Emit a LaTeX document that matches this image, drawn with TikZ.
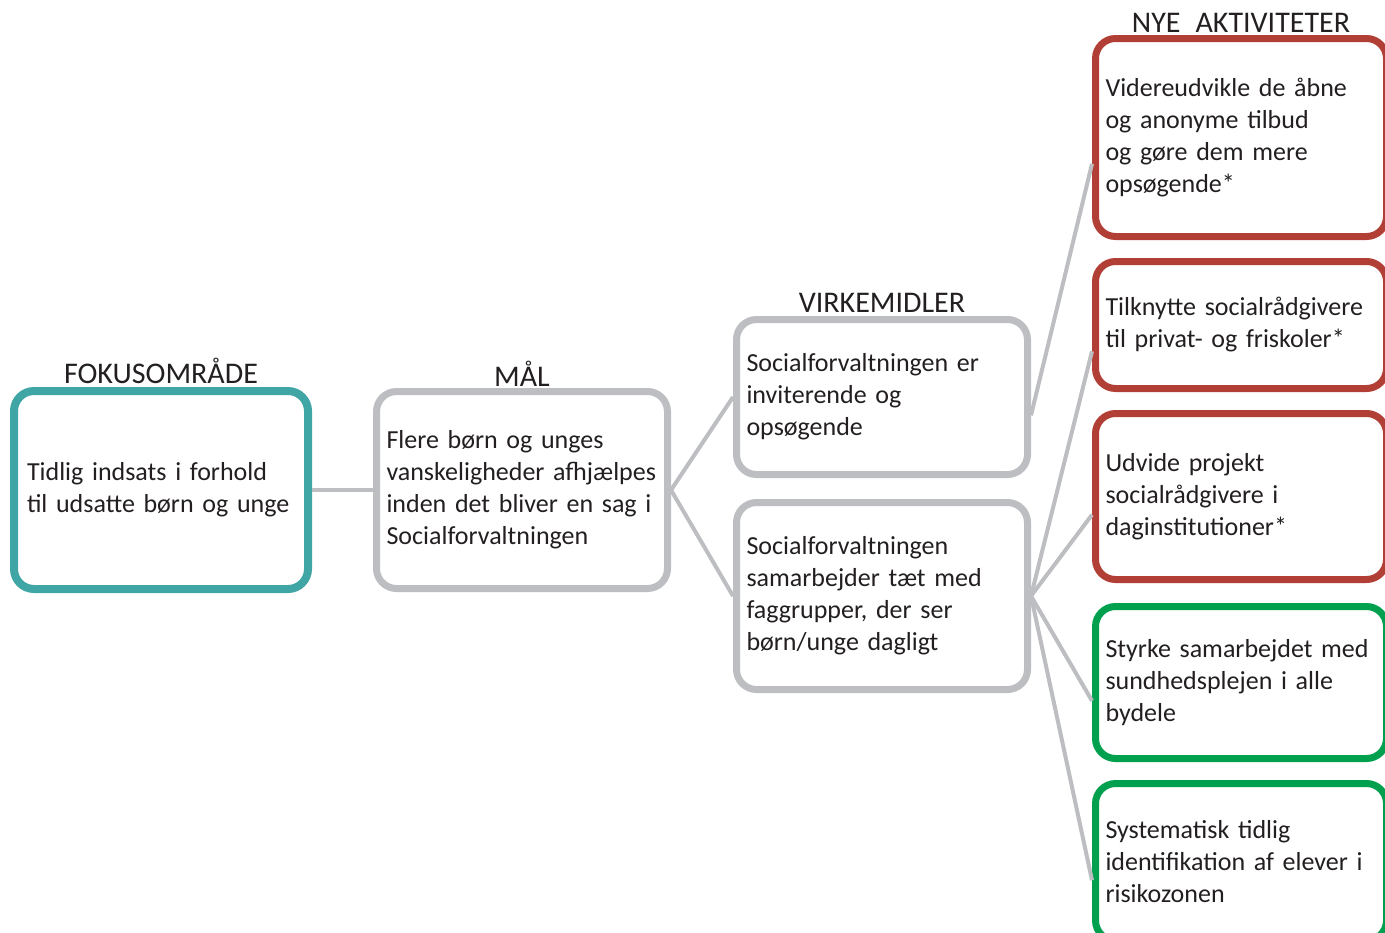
\documentclass[tikz,border=0pt]{standalone}
\usepackage{fontspec}
\setmainfont{Carlito}
\usetikzlibrary{positioning}
\definecolor{focusteal}{HTML}{40A6A5}
\definecolor{boxgray}{HTML}{BDBEC2}
\definecolor{actred}{HTML}{B23F35}
\definecolor{actgreen}{HTML}{00A04F}
\definecolor{ink}{HTML}{231F20}

\begin{document}
\begin{tikzpicture}[x=0.5pt, y=-0.5pt,
                every node/.style = {font=\fontsize{13}{16}\selectfont, text=ink},
                box/.style = {draw, fill=white, rounded corners=10pt, line width=3.5pt, align=left,
                              inner xsep=5pt, inner ysep=0pt, text width=135.5pt},
                head/.style = {inner sep=0pt, font=\fontsize{15}{16}\selectfont},
                link/.style = {every edge/.append style={draw=boxgray, line width=2pt}}]
                \useasboundingbox (0,0) rectangle (1385,932);
                \clip (0,0) rectangle (1385,932);
                % kolonner
                \node[box, draw=focusteal, line width=4pt, inner xsep=6.5pt, text width=134pt, minimum height=99pt] (1) at (161,490)
                    {Tidlig indsats i forhold\\til udsatte børn og unge};
                \node[box, draw=boxgray, minimum height=98.5pt] (2) at (522,490)
                    {Flere børn og unges\\vanskeligheder afhjælpes\\inden det bliver en sag i\\Socialforvaltningen};
                \node[box, draw=boxgray, minimum height=77.5pt] (3) at (882,397)
                    {Socialforvaltningen er\\inviterende og\\opsøgende};
                \node[box, draw=boxgray, minimum height=93.5pt] (4) at (882,596)
                    {Socialforvaltningen\\samarbejder tæt med\\faggrupper, der ser\\børn/unge dagligt};
                \node[box, draw=actred, minimum height=99pt] (5) at (1241,137.5)
                    {Videreudvikle de åbne\\og anonyme tilbud\\og gøre dem mere\\opsøgende*};
                \node[box, draw=actred, minimum height=63.5pt] (6) at (1241,325)
                    {Tilknytte socialrådgivere\\til privat- og friskoler*};
                \node[box, draw=actred, minimum height=83pt] (7) at (1241,496.5)
                    {Udvide projekt\\socialrådgivere i\\daginstitutioner*};
                \node[box, draw=actgreen, minimum height=76pt] (8) at (1241,682.5)
                    {Styrke samarbejdet med\\sundhedsplejen i alle\\bydele};
                \node[box, draw=actgreen, minimum height=78.5pt] (9) at (1241,862)
                    {Systematisk tidlig\\identifikation af elever i\\risikozonen};
                % overskrifter
                \node[head, above=1.5pt of 1] (h1) {FOKUSOMRÅDE};
                \node[head, above=0.5pt of 2] (h2) {MÅL};
                \node[head, above=1.5pt of 3] (h3) {VIRKEMIDLER};
                \node[head, above=1pt of 5] (h4) {NYE\enspace AKTIVITETER};
                \path[link]
                    (1) edge (2)
                    (2.east) edge (3.west)
                    (2.east) edge (4.west)
                    (3.-7) edge (5.190)
                    (4.east) edge (6.190)
                    (4.east) edge (7.187)
                    (4.east) edge (8.187)
                    (4.east) edge (9.187);
            \end{tikzpicture}
\end{document}
